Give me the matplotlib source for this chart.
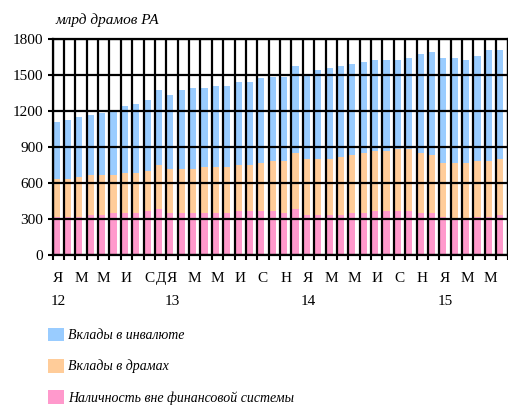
import numpy as np
import matplotlib.pyplot as plt

plt.rcParams['font.family'] = ['Liberation Serif', 'DejaVu Serif']

# Monthly data, bln AMD
cash = [315, 315, 315, 335, 335, 350, 350, 350, 365, 385,
        350, 350, 350, 350, 350, 350, 365, 365, 365, 365,
        350, 385, 335, 335, 335, 335, 350, 350, 365, 365,
        365, 365, 350, 350, 315, 300, 300, 315, 315, 335]
dram_dep = [315, 315, 335, 330, 330, 315, 335, 335, 335, 365,
            365, 365, 365, 385, 385, 385, 385, 385, 400, 420,
            435, 465, 465, 465, 465, 480, 485, 500, 500, 500,
            520, 520, 500, 485, 450, 465, 465, 470, 470, 465]
fx_dep = [480, 495, 500, 500, 520, 535, 555, 575, 590, 625,
          620, 660, 675, 655, 675, 675, 690, 690, 710, 700,
          700, 725, 710, 740, 760, 760, 755, 760, 760, 760,
          740, 755, 825, 855, 875, 875, 860, 875, 925, 910]

month_labels = ['Я', '', 'М', '', 'М', '', 'И', '', 'С', 'Д',
                'Я', '', 'М', '', 'М', '', 'И', '', 'С', '',
                'Н', '', 'Я', '', 'М', '', 'М', '', 'И', '',
                'С', '', 'Н', '', 'Я', '', 'М', '', 'М', '']
year_pos = [0, 10, 22, 34]
year_labels = ['12', '13', '14', '15']

series_names = ['Наличность вне финансовой системы', 'Вклады в драмах', 'Вклады в инвалюте']
colors = ['#FF99CC', '#FFCC99', '#99CCFF']

n = len(cash)
x = np.arange(n)

fig = plt.figure(figsize=(5.08, 4.08), dpi=100)
ax = fig.add_axes([52.5 / 508, 1 - 255 / 408, 455 / 508, 216 / 408])

bottom = np.zeros(n)
handles = []
for vals, col, name in zip([cash, dram_dep, fx_dep], colors, series_names):
    b = ax.bar(x + 0.08, vals, width=0.55, bottom=bottom, align='edge',
               color=col, edgecolor='none', label=name)
    handles.append(b)
    bottom += np.array(vals)

ax.set_xlim(0, n)
ax.set_ylim(0, 1800)
ax.set_yticks(np.arange(0, 1801, 300))
ax.set_xticks(np.arange(n + 1))
ax.set_xticklabels([])
ax.set_xticks(x + 0.5, minor=True)
ax.set_xticklabels(month_labels, minor=True)

ax.set_axisbelow(False)
ax.grid(True, which='major', color='black', linewidth=1.6)
for s in ax.spines.values():
    s.set_color('black')
    s.set_linewidth(1.6)

ax.tick_params(axis='both', which='major', direction='out', length=3.6,
               width=1.5, color='black', labelsize=11, pad=3)
ax.tick_params(axis='x', which='minor', length=0, labelsize=11, pad=12.5)

for p, lab in zip(year_pos, year_labels):
    ax.text(p + 0.5, -0.213, lab, transform=ax.get_xaxis_transform(),
            ha='center', va='center', fontsize=11)

fig.text(55 / 508, 1 - 20 / 408, 'млрд драмов РА', fontsize=11,
         style='italic', ha='left', va='center')

fig.legend(handles=handles[::-1], loc='upper left',
           bbox_to_anchor=(42 / 508, 1 - 322 / 408), frameon=False,
           prop={'size': 10, 'style': 'italic'}, handlelength=1.15,
           handleheight=1.15, handletextpad=0.35, labelspacing=1.2,
           borderaxespad=0)

fig.savefig('out.png', dpi=100)
